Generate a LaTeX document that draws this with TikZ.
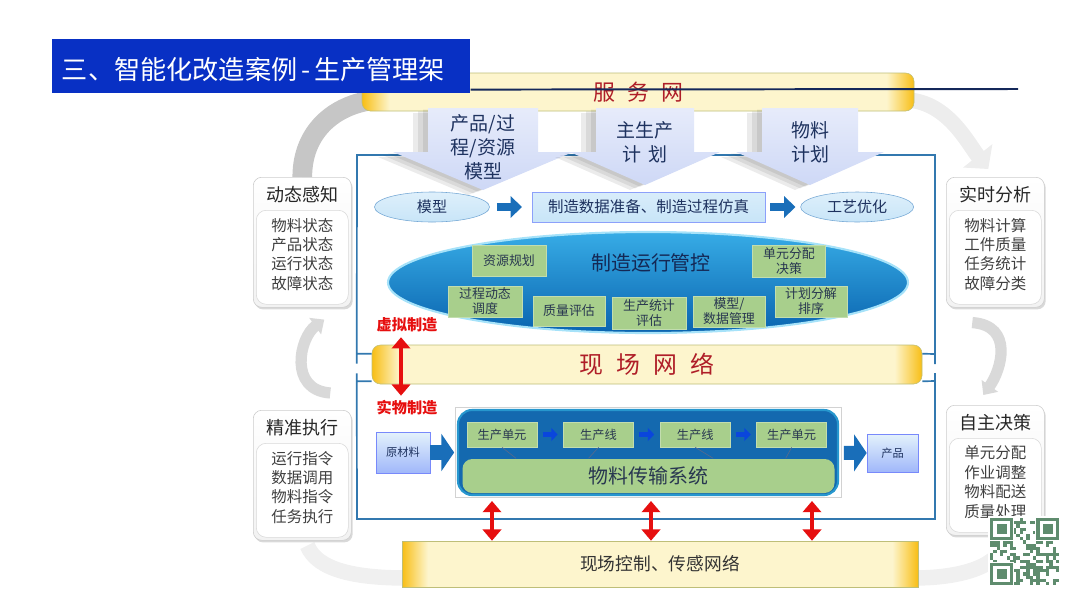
\documentclass[tikz,border=0pt]{standalone}
\usepackage{fontspec}
\setmainfont{Noto Sans CJK SC}
\usepackage{tikz}
\usetikzlibrary{positioning,shapes,arrows,arrows.meta,shadows,backgrounds}
\def\pu{0.025cm}
\definecolor{titleblue}{RGB}{8,48,196}
\definecolor{navyline}{RGB}{20,40,90}
\definecolor{barlight}{RGB}{253,245,205}
\definecolor{bargold}{RGB}{248,190,20}
\definecolor{barline}{RGB}{190,190,120}
\definecolor{netred}{RGB}{175,30,40}
\definecolor{planlav}{RGB}{206,216,246}
\definecolor{plantext}{RGB}{30,50,95}
\definecolor{frameblue}{RGB}{50,120,175}
\definecolor{palecyan}{RGB}{200,229,248}
\definecolor{cellgreen}{RGB}{168,207,140}
\definecolor{celltext}{RGB}{40,55,80}
\definecolor{flowblue}{RGB}{25,110,185}
\definecolor{lineblue}{RGB}{20,105,175}
\definecolor{stepblue}{RGB}{10,70,220}
\definecolor{mfgred}{RGB}{230,15,15}
\definecolor{ctrltop}{RGB}{55,172,230}
\definecolor{ctrlbot}{RGB}{10,100,175}
\definecolor{ctrltext}{RGB}{20,40,85}
\definecolor{qrgreen}{RGB}{95,140,110}
\pgfdeclarehorizontalshading{barshade}{100bp}{color(0bp)=(bargold); color(25bp)=(bargold);
  color(27.5bp)=(barlight); color(72.5bp)=(barlight); color(75bp)=(bargold); color(100bp)=(bargold)}
\tikzstyle{bar}=[draw=barline,shading=barshade,inner sep=0pt]
\tikzstyle{sidebox}=[draw=gray!40,rounded corners=6pt,top color=white,bottom color=gray!10,
  drop shadow={shadow xshift=1pt,shadow yshift=-1.5pt,opacity=.3},
  minimum width=98*\pu,minimum height=130*\pu,inner sep=0pt,anchor=north west]
\tikzstyle{sidein}=[draw=gray!30,rounded corners=7pt,fill=white,minimum width=92*\pu,
  minimum height=94*\pu,inner sep=0pt,anchor=north]
\tikzstyle{oval}=[ellipse,draw=flowblue!60,top color=palecyan!60!white,bottom color=palecyan,
  inner sep=0pt,minimum height=30*\pu,text=plantext,font=\fontsize{10.7}{12}\selectfont]
\tikzstyle{simbox}=[draw=palecyan!70!blue,top color=palecyan!70!white,bottom color=palecyan,
  inner sep=0pt,minimum width=233*\pu,minimum height=30*\pu,text=plantext,font=\fontsize{11}{13}\selectfont]
\tikzstyle{stock}=[draw=palecyan!60!blue,top color=palecyan!50!white,bottom color=palecyan!80!blue,
  inner sep=0pt,text=plantext,font=\fontsize{8}{10}\selectfont]
\tikzstyle{cell}=[fill=cellgreen,draw=cellgreen!70!white,inner sep=0pt,align=center,
  text=celltext,font=\fontsize{9.2}{10.6}\selectfont]
\tikzstyle{unit}=[font=\fontsize{8.7}{10}\selectfont]
\tikzstyle{mfglabel}=[text=mfgred,font=\bfseries\fontsize{10.8}{12}\selectfont]
\tikzstyle{flow}=[-{Triangle[length=8pt,width=15pt]},line width=6pt,flowblue]
\tikzstyle{bigflow}=[-{Triangle[length=9pt,width=26pt]},line width=10pt,flowblue]
\tikzstyle{hop}=[-{Triangle[length=4.5pt,width=9pt]},line width=4pt,stepblue,shorten <=4pt,shorten >=4pt]
\tikzstyle{mfg}=[{Triangle[length=8pt,width=13pt]}-{Triangle[length=8pt,width=13pt]},line width=3.5pt,mfgred]
\tikzstyle{ring}=[line width=14pt]
\tikzstyle{boxline}=[frameblue,line width=1.2pt]
\newcommand{\newCell}[5]{\node[cell,minimum width=#4*\pu,minimum height=#5*\pu,#3](#1){#2};}
\newcommand{\newSide}[4]{%
  \node[sidebox](#1) at (#3){};
  \node[font=\fontsize{12.8}{14}\selectfont,text=black!85](#1h) at ([yshift=-18*\pu]#1.north){#2};
  \node[sidein](#1i) at ([yshift=-33*\pu]#1.north){};
  \node[anchor=north,align=center,text=black!75,font=\fontsize{11}{13.8}\selectfont](#1t)
    at ([yshift=-36*\pu]#1.north){#4};}
\newcommand{\newPlan}[6]{%
  \foreach \s in {5,10,15}
    \fill[black,opacity=.08,shift={(-\s,\s/3)}] (#3-#4,108) -- (#3+#4,108) -- (#3+#4,152)
      -- (#3+#5,152) -- (#3,#6) -- (#3-#5,152) -- (#3-#4,152) -- cycle;
  \shade[top color=planlav!50!white,bottom color=planlav] (#3-#4,108) -- (#3+#4,108) -- (#3+#4,152)
      -- (#3+#5,152) -- (#3,#6) -- (#3-#5,152) -- (#3-#4,152) -- cycle;
  \node[align=center,text=plantext,font=\fontsize{13.5}{17}\selectfont](#1) at (#3,#6-43){#2};}

\begin{document}
\begin{tikzpicture}[x=\pu,y=-\pu,>=latex,node distance=1cm and 0.65cm]
  \useasboundingbox (0,0) rectangle (1080,607);
  % network bars
  \node[bar,rounded corners=6pt,minimum width=552*\pu,minimum height=38*\pu,text=netred,
    font=\fontsize{15.6}{18}\selectfont](svc) at (638,92){服\hspace{0.55em}务\hspace{0.55em}网};
  \node[bar,rounded corners=6pt,minimum width=550*\pu,minimum height=39*\pu,text=netred,
    font=\fontsize{17}{20}\selectfont](field) at (647,364.5){现\hspace{0.55em}场\hspace{0.55em}网\hspace{0.55em}络};
  \node[bar,minimum width=516*\pu,minimum height=46*\pu,text=black!80,
    font=\fontsize{12.6}{15}\selectfont](base) at (660,564){现场控制、传感网络};
  % frames
  \draw[boxline] ([yshift=-9*\pu]field.north west) -- ++(-15,0) ++(0,10) -- (357,155) -- (935,155)
    -- (935,364) ++(0,-10) -- ([yshift=-9*\pu]field.north east);
  \draw[boxline] ([yshift=3*\pu]field.south west) -- ++(-15,0) ++(0,-8) -- (357,519) -- (935,519)
    -- (935,373) ++(0,8) -- ([yshift=3*\pu]field.south east);
  % plans
  \newPlan{pm}{产品/过\\程/资源\\模型}{483}{55}{90}{190}
  \newPlan{mps}{主生产\\计\hspace{0.4em}划}{645}{49}{75}{185}
  \newPlan{mrp}{物料\\计划}{810}{48}{74}{185}
  % title
  \node[fill=titleblue,anchor=north west,minimum width=418*\pu,minimum height=54*\pu,inner sep=0pt](title) at (52,39){};
  \node[anchor=west,text=white,font=\fontsize{18.6}{21}\selectfont](titlet) at (57,70){三、智能化改造案例\hspace{0.15em}-\hspace{0.15em}生产管理架};
  \coordinate (lineend) at (1018,89);
  \draw[navyline,line width=1.4pt] ([yshift=4*\pu]title.south east) -- (lineend);
  % side boxes
  \newSide{dyn}{动态感知}{253,177}{物料状态\\产品状态\\运行状态\\故障状态}
  \newSide{exe}{精准执行}{253,410}{运行指令\\数据调用\\物料指令\\任务执行}
  \newSide{ana}{实时分析}{946,177}{物料计算\\工件质量\\任务统计\\故障分类}
  \newSide{dec}{自主决策}{946,405}{单元分配\\作业调整\\物料配送\\质量处理}
  % model row
  \node[oval,minimum width=115*\pu](mdl) at (432,207){模型};
  \node[simbox,right=1.05cm of mdl](sim){制造数据准备、制造过程仿真};
  \node[oval,minimum width=113*\pu,right=0.875cm of sim](opt){工艺优化};
  \draw[flow,shorten <=5pt,shorten >=7pt] (mdl) -- (sim);
  \draw[flow,shorten <=3.5pt,shorten >=3.5pt] (sim) -- (opt);
  % operation control
  \node[ellipse,draw=cyan!35,line width=1.5pt,top color=ctrltop,bottom color=ctrlbot,
    minimum width=520*\pu,minimum height=101*\pu](ctrl) at (648,282.5){};
  \node[text=ctrltext,font=\fontsize{14.2}{16}\selectfont](ctrlt) at (651,263){制造运行管控};
  \newCell{res}{资源规划}{at={(509,261)}}{74}{31}
  \newCell{alloc}{单元分配\\决策}{at={(789,261)}}{73}{32}
  \newCell{sched}{过程动态\\调度}{at={(485,301.5)}}{74}{31}
  \newCell{qual}{质量评估}{at={(569,311)}}{72}{30}
  \newCell{stat}{生产统计\\评估}{at={(649,313)}}{74}{32}
  \newCell{mdm}{模型/\\数据管理}{at={(729,311.5)}}{72}{31}
  \newCell{plan}{计划分解\\排序}{at={(811,301.5)}}{72}{31}
  % virtual / physical
  \node[mfglabel](virt) at (407,325){虚拟制造};
  \node[mfglabel](phys) at (407,408){实物制造};
  \draw[mfg] ([xshift=-6*\pu]virt.south) -- ([xshift=-6*\pu]phys.north);
  % production line
  \node[stock,minimum width=54*\pu,minimum height=41*\pu](raw) at (403,452.5){原材料};
  \node[draw=gray!35,minimum width=386*\pu,minimum height=90*\pu,inner sep=0pt](lineframe) at (648,452.5){};
  \node[draw=cyan!60!lineblue,line width=1.5pt,fill=lineblue,rounded corners=10pt,
    minimum width=380*\pu,minimum height=85*\pu,inner sep=0pt](line) at (648,452.5){};
  \node[fill=cellgreen,rounded corners=7pt,minimum width=372*\pu,minimum height=34*\pu,inner sep=0pt,
    text=celltext,font=\fontsize{14.2}{16}\selectfont](belt) at (648.5,476){物料传输系统};
  \newCell{u1}{生产单元}{unit,at={(502,434.5)}}{70}{25}
  \newCell{l1}{生产线}{unit,right=0.65cm of u1}{70}{25}
  \newCell{l2}{生产线}{unit,right=0.65cm of l1}{70}{25}
  \newCell{u2}{生产单元}{unit,right=0.65cm of l2}{70}{25}
  \draw[hop] (u1) -- (l1);
  \draw[hop] (l1) -- (l2);
  \draw[hop] (l2) -- (u2);
  \draw[navyline!70,thin] (u1.south) -- ++(14,11);
  \draw[navyline!70,thin] (l1.south) -- ++(-10,11);
  \draw[navyline!70,thin] (l2.south) -- ++(18,11);
  \draw[navyline!70,thin] (u2.south) -- ++(-6,11);
  \node[stock,minimum width=51*\pu,minimum height=38*\pu](prod) at (892.5,453){产品};
  \draw[bigflow,shorten >=2pt] (raw) -- (line);
  \draw[bigflow,shorten <=3.5pt] (line) -- (prod);
  \foreach \x in {492,651,812}
    \draw[mfg,shorten <=3.5pt] (\x,0 |- line.south) -- (\x,0 |- base.north);
  % cycle
  \begin{pgfonlayer}{background}
    \draw[ring,gray!45] (dyn.north) .. controls +(0,-45) and +(-40,5) .. ([shift={(12,8)}]svc.west);
    \draw[ring,gray!14,line width=11pt,-{Triangle[length=12pt,width=26pt]}] ([shift={(-6,8)}]svc.east)
      .. controls +(40,3) and +(-20,-25) .. ([shift={(-7,-8)}]ana.north);
    \draw[ring,gray!30,line width=8pt,-{Triangle[length=8pt,width=14pt]}] ([shift={(28,-17)}]exe.north)
      .. controls +(-42,-3) and +(-25,18) .. ([shift={(22,12)}]dyn.south);
    \draw[ring,gray!30,line width=8pt,-{Triangle[length=8pt,width=14pt]}] ([shift={(-23,15)}]ana.south)
      .. controls +(42,3) and +(18,-25) .. ([shift={(-12,-10)}]dec.north);
    \draw[ring,gray!12,line width=11pt] ([shift={(5,5)}]exe.south) .. controls +(10,25) and +(-50,0)
      .. ([shift={(5,14)}]base.west);
    \draw[ring,gray!12,line width=11pt] ([shift={(-5,14)}]base.east) .. controls +(50,0) and +(-5,25)
      .. ([shift={(10,5)}]dec.south);
  \end{pgfonlayer}
  % qr
  \begin{scope}[shift={(990,518)}]
    \pgfmathsetseed{11}
    \fill[white] (-2,-2) rectangle (72,70);
    \foreach \i in {0,...,20}{\foreach \j in {0,...,20}{
      \pgfmathtruncatemacro\bit{rnd<0.45?1:0}
      \ifnum\bit=1 \fill[qrgreen] (\i*3.3,\j*3.2) rectangle ++(3.3,3.2);\fi}}
    \foreach \a/\b in {0/0,46.2/0,0/44.8}{
      \fill[white] (\a-1,\b-1) rectangle ++(25.1,24.4);
      \fill[qrgreen] (\a,\b) rectangle ++(23.1,22.4);
      \fill[white] (\a+3.3,\b+3.2) rectangle ++(16.5,16);
      \fill[qrgreen] (\a+6.6,\b+6.4) rectangle ++(9.9,9.6);}
  \end{scope}
\end{tikzpicture}
\end{document}
